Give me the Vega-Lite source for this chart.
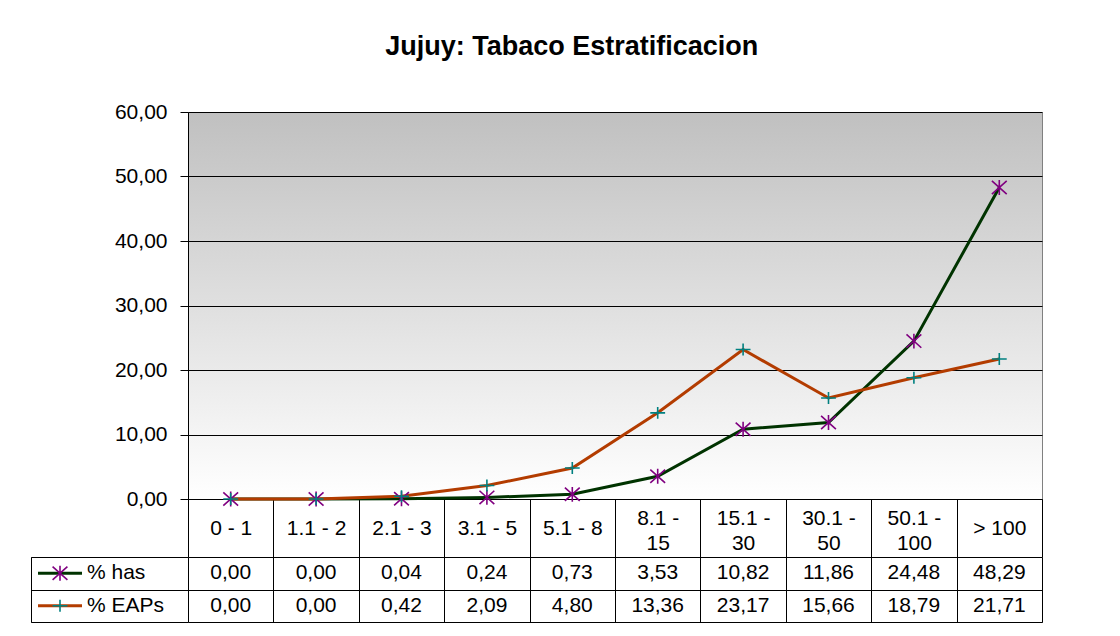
{
  "$schema": "https://vega.github.io/schema/vega-lite/v6.json",
  "padding": {"left": 30, "top": 32, "right": 5, "bottom": 5},
  "background": "white",
  "title": {"text": "Jujuy: Tabaco Estratificacion", "fontSize": 27, "fontWeight": "bold", "color": "black", "anchor": "middle", "dx": 35, "offset": 40},
  "config": {
    "font": "Liberation Sans",
    "locale": {"number": {"decimal": ",", "thousands": ".", "grouping": [3], "currency": ["", ""]}},
    "concat": {"spacing": 0}
  },
  "datasets": {
    "main": [
      {"cat": "0 - 1", "series": "% has", "value": 0.00},
      {"cat": "1.1 - 2", "series": "% has", "value": 0.00},
      {"cat": "2.1 - 3", "series": "% has", "value": 0.04},
      {"cat": "3.1 - 5", "series": "% has", "value": 0.24},
      {"cat": "5.1 - 8", "series": "% has", "value": 0.73},
      {"cat": "8.1 - 15", "series": "% has", "value": 3.53},
      {"cat": "15.1 - 30", "series": "% has", "value": 10.82},
      {"cat": "30.1 - 50", "series": "% has", "value": 11.86},
      {"cat": "50.1 - 100", "series": "% has", "value": 24.48},
      {"cat": "> 100", "series": "% has", "value": 48.29},
      {"cat": "0 - 1", "series": "% EAPs", "value": 0.00},
      {"cat": "1.1 - 2", "series": "% EAPs", "value": 0.00},
      {"cat": "2.1 - 3", "series": "% EAPs", "value": 0.42},
      {"cat": "3.1 - 5", "series": "% EAPs", "value": 2.09},
      {"cat": "5.1 - 8", "series": "% EAPs", "value": 4.80},
      {"cat": "8.1 - 15", "series": "% EAPs", "value": 13.36},
      {"cat": "15.1 - 30", "series": "% EAPs", "value": 23.17},
      {"cat": "30.1 - 50", "series": "% EAPs", "value": 15.66},
      {"cat": "50.1 - 100", "series": "% EAPs", "value": 18.79},
      {"cat": "> 100", "series": "% EAPs", "value": 21.71}
    ],
    "series": [
      {"series": "% has"},
      {"series": "% EAPs"}
    ]
  },
  "columns": 2,
  "bounds": "flush",
  "spacing": {"row": 58, "column": 0},
  "concat": [
    {
      "width": 157,
      "height": 387,
      "view": {"stroke": null},
      "data": {"values": []},
      "mark": "text"
    },
    {
      "width": 854,
      "height": 387,
      "view": {"stroke": "#808080", "fill": {"gradient": "linear", "x1": 0, "y1": 0, "x2": 0, "y2": 1, "stops": [{"offset": 0, "color": "#c0c0c0"}, {"offset": 1, "color": "#ffffff"}]}},
      "data": {"name": "main"},
      "encoding": {
        "x": {
          "field": "cat", "type": "nominal",
          "sort": ["0 - 1", "1.1 - 2", "2.1 - 3", "3.1 - 5", "5.1 - 8", "8.1 - 15", "15.1 - 30", "30.1 - 50", "50.1 - 100", "> 100"],
          "scale": {"type": "band", "paddingInner": 0, "paddingOuter": 0},
          "axis": {
            "title": null, "orient": "bottom", "labelAngle": 0,
            "domainColor": "black", "domainWidth": 1,
            "ticks": true, "tickBand": "extent", "tickSize": 58, "tickColor": "black", "tickWidth": 1,
            "labelFontSize": 21, "labelColor": "black",
            "labelBaseline": {"condition": {"test": "length(datum.label) >= 8", "value": "bottom"}, "value": "middle"},
            "labelPadding": -29, "labelLineHeight": 25,
            "labelOverlap": false, "labelBound": false, "labelFlush": false,
            "labelExpr": "length(datum.label) >= 8 ? [slice(datum.label, 0, indexof(datum.label, ' - ') + 2), slice(datum.label, indexof(datum.label, ' - ') + 3)] : datum.label",
            "grid": false
          }
        },
        "y": {
          "field": "value", "type": "quantitative",
          "scale": {"domain": [0, 60], "nice": false},
          "axis": {
            "title": null, "values": [0, 10, 20, 30, 40, 50, 60], "format": ".2f",
            "domainColor": "black", "tickColor": "black", "tickSize": 8, "labelPadding": 13,
            "labelFontSize": 21, "labelColor": "black",
            "grid": true, "gridColor": "black", "gridWidth": 1, "gridOpacity": 1
          }
        }
      },
      "layer": [
        {
          "mark": {"type": "line", "strokeWidth": 3},
          "encoding": {
            "color": {"field": "series", "type": "nominal", "scale": {"domain": ["% has", "% EAPs"], "range": ["#003300", "#b33c00"]}, "legend": null}
          }
        },
        {
          "mark": {"type": "point", "filled": false, "size": 220, "strokeWidth": 1.6, "opacity": 1},
          "encoding": {
            "stroke": {"field": "series", "type": "nominal", "scale": {"domain": ["% has", "% EAPs"], "range": ["#800080", "#008080"]}, "legend": null},
            "shape": {"field": "series", "type": "nominal", "scale": {"domain": ["% has", "% EAPs"], "range": ["M-1,-0.9L1,0.9M-1,0.9L1,-0.9M0,-1L0,1", "M-1,0L1,0M0,-0.8L0,0.8"]}, "legend": null}
          }
        }
      ]
    },
    {
      "width": 157,
      "height": 65,
      "view": {"stroke": "black"},
      "data": {"name": "series"},
      "encoding": {
        "y": {
          "field": "series", "type": "nominal", "sort": ["% has", "% EAPs"],
          "scale": {"type": "band", "paddingInner": 0, "paddingOuter": 0},
          "axis": {"title": null, "labels": false, "ticks": false, "domain": false, "grid": true, "tickBand": "extent", "gridColor": "black", "gridOpacity": 1}
        }
      },
      "layer": [
        {
          "mark": {"type": "rule", "strokeWidth": 3},
          "encoding": {
            "x": {"datum": 7, "type": "quantitative", "scale": {"domain": [0, 157], "nice": false, "zero": false}, "axis": null},
            "x2": {"datum": 51},
            "color": {"field": "series", "type": "nominal", "scale": {"domain": ["% has", "% EAPs"], "range": ["#003300", "#b33c00"]}, "legend": null}
          }
        },
        {
          "mark": {"type": "point", "filled": false, "size": 220, "strokeWidth": 1.6, "opacity": 1},
          "encoding": {
            "x": {"datum": 29, "type": "quantitative"},
            "stroke": {"field": "series", "type": "nominal", "scale": {"domain": ["% has", "% EAPs"], "range": ["#800080", "#008080"]}, "legend": null},
            "shape": {"field": "series", "type": "nominal", "scale": {"domain": ["% has", "% EAPs"], "range": ["M-1,-0.9L1,0.9M-1,0.9L1,-0.9M0,-1L0,1", "M-1,0L1,0M0,-0.8L0,0.8"]}, "legend": null}
          }
        },
        {
          "mark": {"type": "text", "align": "left", "baseline": "middle", "fontSize": 21, "color": "black"},
          "encoding": {
            "x": {"datum": 56, "type": "quantitative"},
            "text": {"field": "series"}
          }
        }
      ]
    },
    {
      "width": 854,
      "height": 65,
      "view": {"stroke": "#808080"},
      "data": {"name": "main"},
      "encoding": {
        "x": {
          "field": "cat", "type": "nominal",
          "sort": ["0 - 1", "1.1 - 2", "2.1 - 3", "3.1 - 5", "5.1 - 8", "8.1 - 15", "15.1 - 30", "30.1 - 50", "50.1 - 100", "> 100"],
          "scale": {"type": "band", "paddingInner": 0, "paddingOuter": 0},
          "axis": {"title": null, "labels": false, "ticks": false, "domain": false, "grid": true, "tickBand": "extent", "gridColor": "black", "gridOpacity": 1}
        },
        "y": {
          "field": "series", "type": "nominal", "sort": ["% has", "% EAPs"],
          "scale": {"type": "band", "paddingInner": 0, "paddingOuter": 0},
          "axis": {"title": null, "labels": false, "ticks": false, "domain": false, "grid": true, "tickBand": "extent", "gridColor": "black", "gridOpacity": 1}
        }
      },
      "layer": [
        {
          "mark": {"type": "text", "align": "center", "baseline": "middle", "fontSize": 21, "color": "black"},
          "encoding": {
            "text": {"field": "value", "type": "quantitative", "format": ".2f"}
          }
        }
      ]
    }
  ]
}
